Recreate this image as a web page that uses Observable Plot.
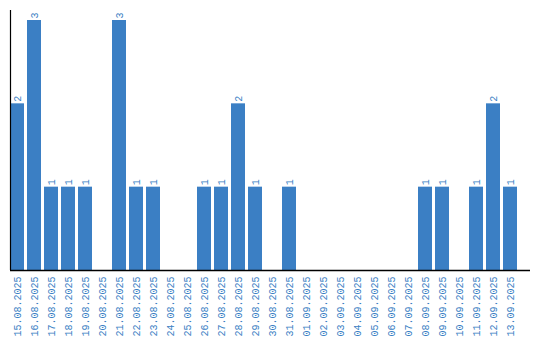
<!DOCTYPE html>
<html>
<head>
<meta charset="utf-8">
<script src="https://cdn.jsdelivr.net/npm/d3@7"></script>
<script src="https://cdn.jsdelivr.net/npm/@observablehq/plot@0.6"></script>
<style>
  html, body { margin: 0; padding: 0; background: #fff; }
</style>
</head>
<body>
<div id="chart"></div>
<script>
const dates = ["15.08.2025","16.08.2025","17.08.2025","18.08.2025","19.08.2025","20.08.2025","21.08.2025","22.08.2025","23.08.2025","24.08.2025","25.08.2025","26.08.2025","27.08.2025","28.08.2025","29.08.2025","30.08.2025","31.08.2025","01.09.2025","02.09.2025","03.09.2025","04.09.2025","05.09.2025","06.09.2025","07.09.2025","08.09.2025","09.09.2025","10.09.2025","11.09.2025","12.09.2025","13.09.2025"];
const counts = [2,3,1,1,1,0,3,1,1,0,0,1,1,2,1,0,1,0,0,0,0,0,0,0,1,1,0,1,2,1];

const data = dates.map((d, i) => ({date: d, value: counts[i]}));
const blue = "#3b7fc4";

const chart = Plot.plot({
  width: 540,
  height: 340,
  marginLeft: 10,
  marginRight: 10,
  marginTop: 10,
  marginBottom: 70,
  style: {fontFamily: "'Liberation Mono', monospace", fontSize: "10px", color: blue, background: "#fff"},
  x: {domain: dates, range: [10, 520], paddingInner: 3/17, paddingOuter: 3/34, align: 0, tickRotate: -90, tickSize: 0, tickPadding: 6, label: null},
  y: {domain: [0, 3.12], axis: null},
  marks: [
    Plot.barY(data, {x: "date", y: "value", fill: blue}),
    Plot.text(data.filter(d => d.value > 0), {x: "date", y: "value", text: d => String(d.value), rotate: -90, textAnchor: "start", dy: -2, fill: blue}),
    Plot.ruleY([0], {stroke: "black", strokeWidth: 1.5}),
    Plot.ruleX([dates[0]], {x: d => d, y1: 0, y2: 3.12, dx: -7, stroke: "black", strokeWidth: 1.2})
  ]
});
document.getElementById("chart").appendChild(chart);
</script>
</body>
</html>
